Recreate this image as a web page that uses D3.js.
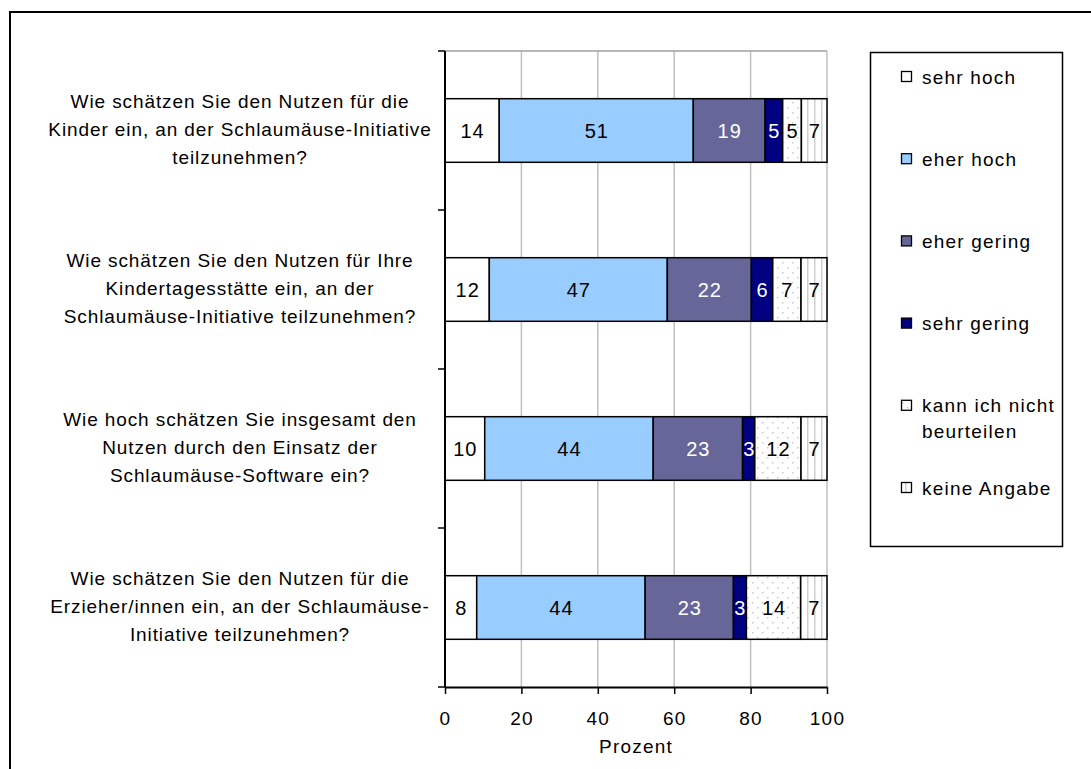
<!DOCTYPE html>
<html><head><meta charset="utf-8">
<script src="https://cdn.jsdelivr.net/npm/d3@7"></script>
<style>
body{margin:0;background:#fff;}
text{font-family:"Liberation Sans",Arial,sans-serif;}
</style>
</head><body>
<svg id="c" width="1091" height="769"></svg>
<script>
const categories = ["q1","q2","q3","q4"];
const categoryLines = [
  ["Wie schätzen Sie den Nutzen für die","Kinder ein, an der Schlaumäuse-Initiative","teilzunehmen?"],
  ["Wie schätzen Sie den Nutzen für Ihre","Kindertagesstätte ein, an der","Schlaumäuse-Initiative teilzunehmen?"],
  ["Wie hoch schätzen Sie insgesamt den","Nutzen durch den Einsatz der","Schlaumäuse-Software ein?"],
  ["Wie schätzen Sie den Nutzen für die","Erzieher/innen ein, an der Schlaumäuse-","Initiative teilzunehmen?"]
];
const seriesNames = ["sehr hoch","eher hoch","eher gering","sehr gering","kann ich nicht beurteilen","keine Angabe"];
const sehrHoch    = [14.2, 11.6, 10.4, 8.3];
const eherHoch    = [50.8, 46.6, 44.1, 44.1];
const eherGering  = [18.8, 22.0, 23.4, 23.1];
const sehrGering  = [4.6, 5.6, 3.2, 3.4];
const kannNicht   = [4.9, 7.4, 12.1, 14.2];
const keineAngabe = [6.7, 6.8, 6.8, 6.9];
const xTicks = [0,20,40,60,80,100];

const seriesValues = [sehrHoch, eherHoch, eherGering, sehrGering, kannNicht, keineAngabe];
const table = categories.map((c,i)=>{const o={cat:c}; seriesNames.forEach((s,j)=>o[s]=seriesValues[j][i]); return o;});

const svg = d3.select("#c");
const defs = svg.append("defs");
const dots = defs.append("pattern").attr("id","dots").attr("patternUnits","userSpaceOnUse").attr("width",10).attr("height",10);
dots.append("rect").attr("width",10).attr("height",10).attr("fill","#fff");
dots.append("rect").attr("x",2).attr("y",2).attr("width",1.5).attr("height",1.5).attr("fill","#c8c8c8");
dots.append("rect").attr("x",7).attr("y",7).attr("width",1.5).attr("height",1.5).attr("fill","#c8c8c8");
const vl = defs.append("pattern").attr("id","vlines").attr("patternUnits","userSpaceOnUse").attr("width",7).attr("height",10);
vl.append("rect").attr("width",7).attr("height",10).attr("fill","#fff");
vl.append("rect").attr("x",2).attr("width",1.5).attr("height",10).attr("fill","#cfcfcf");

const fills = ["#ffffff","#99ccff","#666699","#000080","url(#dots)","url(#vlines)"];
const labelColors = ["#000","#000","#fff","#fff","#000","#000"];
const LS = "1.2px";

// outer frame
svg.append("rect").attr("x",10).attr("y",12).attr("width",1100).attr("height",800)
  .attr("fill","none").attr("stroke","#000").attr("stroke-width",2);

const x = d3.scaleLinear().domain([0,100]).range([445,827]);
const y = d3.scaleBand().domain(categories).range([51,687]).paddingInner(0.6).paddingOuter(0.3);

// gridlines
svg.append("g").selectAll("line").data(xTicks.filter(d=>d>0)).join("line")
  .attr("x1",d=>x(d)).attr("x2",d=>x(d)).attr("y1",51).attr("y2",687)
  .attr("stroke","#c0c0c0").attr("stroke-width",1.5);
svg.append("line").attr("x1",445).attr("x2",827).attr("y1",51).attr("y2",51)
  .attr("stroke","#a0a0a0").attr("stroke-width",1.5);

const stack = d3.stack().keys(seriesNames)(table);
const gBars = svg.append("g");
stack.forEach((layer,j)=>{
  gBars.append("g").selectAll("rect").data(layer).join("rect")
    .attr("x",d=>x(d[0])).attr("width",d=>x(d[1])-x(d[0]))
    .attr("y",d=>y(d.data.cat)).attr("height",y.bandwidth())
    .attr("fill",fills[j]).attr("stroke","#000").attr("stroke-width",1.5);
});
stack.forEach((layer,j)=>{
  svg.append("g").selectAll("text").data(layer).join("text")
    .attr("x",d=>(x(d[0])+x(d[1]))/2+0.5).attr("y",d=>y(d.data.cat)+y.bandwidth()/2)
    .attr("dy","0.35em").attr("text-anchor","middle").attr("font-size",20).attr("letter-spacing","1px")
    .attr("fill",labelColors[j]).text(d=>d3.format(".0f")(d[1]-d[0]));
});

// x axis
const xa = svg.append("g").attr("transform","translate(0,687)")
  .call(d3.axisBottom(x).tickValues(xTicks).tickSize(7).tickSizeOuter(0).tickFormat(d3.format("d")));
xa.select(".domain").attr("stroke","#000").attr("stroke-width",2);
xa.selectAll(".tick line").attr("stroke","#000").attr("stroke-width",1.5);
xa.selectAll("text").attr("font-size",19).attr("letter-spacing",LS).attr("font-family","Liberation Sans, Arial").attr("dy","0.35em").attr("y",31).attr("fill","#000");
svg.append("text").attr("x",x(50)).attr("y",746).attr("dy","0.35em").attr("text-anchor","middle").attr("font-size",19).attr("letter-spacing",LS).text("Prozent");

// y axis
svg.append("line").attr("x1",445).attr("x2",445).attr("y1",51).attr("y2",687).attr("stroke","#000").attr("stroke-width",2);
const bounds = categories.map(c=>y(c)-y.step()*0.3).concat([687]);
svg.append("g").selectAll("line").data(bounds).join("line")
  .attr("x1",438).attr("x2",445).attr("y1",d=>d).attr("y2",d=>d).attr("stroke","#000").attr("stroke-width",1.5);

// category labels
categories.forEach((c,i)=>{
  const cy = y(c)+y.bandwidth()/2-1;
  const t = svg.append("text").attr("text-anchor","middle").attr("font-size",19).attr("letter-spacing","0.9px");
  categoryLines[i].forEach((ln,k)=>{
    t.append("tspan").attr("x",240).attr("y",cy+(k-1)*28).attr("dy","0.35em").text(ln);
  });
});

// legend
svg.append("rect").attr("x",870.5).attr("y",52.5).attr("width",192).attr("height",494)
  .attr("fill","#fff").attr("stroke","#000").attr("stroke-width",1.5);
const legendLines = [["sehr hoch"],["eher hoch"],["eher gering"],["sehr gering"],["kann ich nicht","beurteilen"],["keine Angabe"]];
seriesNames.forEach((s,j)=>{
  const ly = 77 + j*82.2;
  svg.append("rect").attr("x",901.5).attr("y",ly-5.5).attr("width",10).attr("height",10)
    .attr("fill",fills[j]).attr("stroke","#000").attr("stroke-width",1.3);
  const t = svg.append("text").attr("font-size",19).attr("letter-spacing",LS);
  legendLines[j].forEach((ln,k)=>{
    t.append("tspan").attr("x",922).attr("y",ly+k*26).attr("dy","0.35em").text(ln);
  });
});
</script>
</body></html>
